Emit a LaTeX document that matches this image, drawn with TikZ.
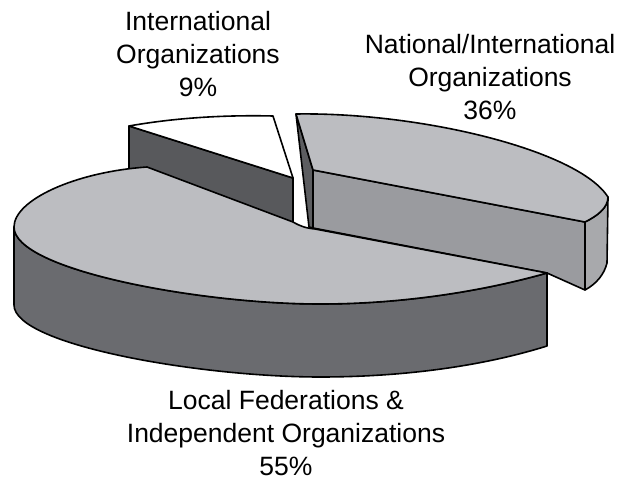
\documentclass[tikz,border=0pt]{standalone}
\usepackage{fontspec}
\setmainfont{Liberation Sans}
\definecolor{facegray}{HTML}{BCBDC1}
\definecolor{wallgray}{HTML}{6A6B6F}
\definecolor{walldark}{HTML}{58595C}
\definecolor{sidedark}{HTML}{5C5D60}
\definecolor{cutgray}{HTML}{9A9B9F}
\definecolor{rimgray}{HTML}{A8A9AC}
\begin{document}
\begin{tikzpicture}[x=1bp, y=-1bp,
    slice/.style={draw=black, line width=1.6bp, line join=round},
    pielabel/.style={align=center, inner sep=0pt, font=\fontsize{26.5bp}{33bp}\selectfont}]
                \useasboundingbox (0,0) rectangle (630,478);

                \draw[slice, fill=walldark] (129,126) -- (293,178) -- (293,223) -- (129,171) -- cycle;
                \draw[slice, fill=white] (129,126) .. controls (180,117) and (230,115) .. (273,116) -- (293,178) -- cycle;

                \draw[slice, fill=sidedark] (296,114) -- (313,170) -- (313,228) -- (309,227) -- cycle;
                \draw[slice, fill=cutgray] (313,170) -- (585,222) -- (585,290) -- (547,273) -- (313,228) -- cycle;
                \draw[slice, fill=rimgray] (585,222) .. controls (597,216) and (608,208) .. (608,197) -- (607,263)
                    .. controls (604,275) and (596,284) .. (585,290) -- cycle;
                \draw[slice, fill=facegray] (296,114) .. controls (420,112) and (578,150) .. (608,197)
                    .. controls (608,208) and (597,216) .. (585,222) -- (313,170) -- cycle;

                \draw[slice, fill=wallgray] (547,273) .. controls (480,292) and (400,304) .. (320,304)
                    .. controls (200,304) and (14,270) .. (14,227) -- (14,305)
                    .. controls (14,345) and (200,377) .. (320,377)
                    .. controls (400,377) and (480,367) .. (547,346) -- cycle;
                \draw[slice, fill=facegray] (147,167) -- (293,222) .. controls (300,226) and (305,228) .. (315,229) -- (547,273)
                    .. controls (480,292) and (400,304) .. (320,304)
                    .. controls (200,304) and (14,270) .. (14,227)
                    .. controls (14,200) and (75,172) .. (147,167) -- cycle;

                \node[pielabel] (intl) at (198,54) {International\\Organizations\\9\%};
                \node[pielabel] (natl) at (490,77) {National/International\\Organizations\\36\%};
                \node[pielabel] (local) at (286,433) {Local Federations \&\\Independent Organizations\\55\%};
            \end{tikzpicture}
\end{document}
